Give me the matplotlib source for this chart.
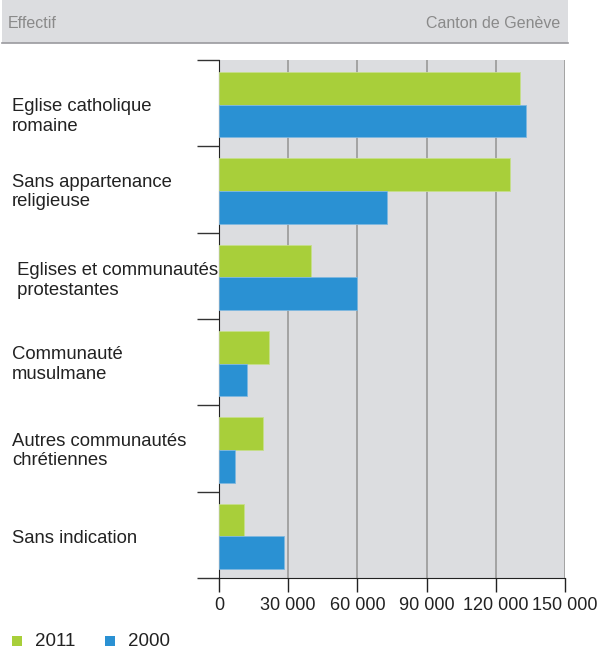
import matplotlib
matplotlib.use("Agg")
import matplotlib.pyplot as plt
import numpy as np
from matplotlib.patches import Rectangle

plt.rcParams['font.family'] = ['Liberation Sans', 'DejaVu Sans']

categories = ["Eglise catholique\nromaine", "Sans appartenance\nreligieuse",
              " Eglises et communautés\n protestantes", "Communauté\nmusulmane",
              "Autres communautés\nchrétiennes", "Sans indication"]
values_2011 = [130500, 126000, 40000, 21500, 19000, 11000]
values_2000 = [133000, 73000, 60000, 12000, 7000, 28000]
xticks = [0, 30000, 60000, 90000, 120000, 150000]
xticklabels = ["0", "30 000", "60 000", "90 000", "120 000", "150 000"]
series_labels = ["2011", "2000"]

green = "#a8cf3a"
blue = "#2a91d3"

fig = plt.figure(figsize=(6.02, 6.5), dpi=100)
W, H = 602, 650
ax = fig.add_axes([219 / W, 1 - 578 / H, (565 - 219) / W, (578 - 60) / H])
ax.set_facecolor("#dcdde0")

n = len(categories)
y = np.arange(n)
bh = 0.378
d = -0.017
ax.barh(y - bh / 2, values_2011, height=bh, color=green, edgecolor="#c6df8a", linewidth=0.6, zorder=3)
ax.barh(y + bh / 2, values_2000, height=bh, color=blue, edgecolor="#7fb8e0", linewidth=0.6, zorder=3)
ax.set_ylim(n - 0.5 + d, -0.5 + d)
ax.set_xlim(0, 150000)

ax.set_xticks(xticks)
ax.set_xticklabels(xticklabels, fontsize=13, color="#222222")
ax.grid(axis="x", color="#999999", linewidth=1.2, zorder=1)
ax.set_yticks(np.arange(n + 1) - 0.5 + d)
ax.set_yticklabels([])
ax.tick_params(axis="y", length=16, width=1, color="#333333", direction="out")
ax.tick_params(axis="x", length=10, width=1, color="#222222", direction="out", pad=4)
for s in ["top", "right"]:
    ax.spines[s].set_visible(False)
ax.spines["left"].set_color("#222222")
ax.spines["bottom"].set_color("#222222")

nudges = [12, 1, 3, 1, 1, 2]
fig.canvas.draw()
for i, lab in enumerate(categories):
    yy = ax.transData.transform((0, i))[1] - nudges[i]
    fig.text(12 / W, yy / H, lab, fontsize=13.3, color="#222222", ha="left", va="center", linespacing=1.2)

# header
fig.patches.append(Rectangle((2 / W, 1 - 43 / H), (568 - 2) / W, 43 / H, transform=fig.transFigure,
                             facecolor="#dcdde0", edgecolor="none"))
fig.add_artist(plt.Line2D([2 / W, 568 / W], [1 - 43 / H, 1 - 43 / H], color="#9a9a9e", linewidth=1.2))
fig.text(8 / W, 1 - 23 / H, "Effectif", fontsize=11.5, color="#8a8a8a", ha="left", va="center")
fig.text(560 / W, 1 - 23 / H, "Canton de Genève", fontsize=11.5, color="#8a8a8a", ha="right", va="center")

# legend
for x0, col, lab in [(12, green, series_labels[0]), (105, blue, series_labels[1])]:
    fig.patches.append(Rectangle((x0 / W, 1 - 646 / H), 10 / W, 10 / H, transform=fig.transFigure,
                                 facecolor=col, edgecolor="none"))
    fig.text((x0 + 23) / W, 1 - 641 / H, lab, fontsize=13.5, color="#222222", ha="left", va="center")

fig.savefig("out.png", dpi=100)
